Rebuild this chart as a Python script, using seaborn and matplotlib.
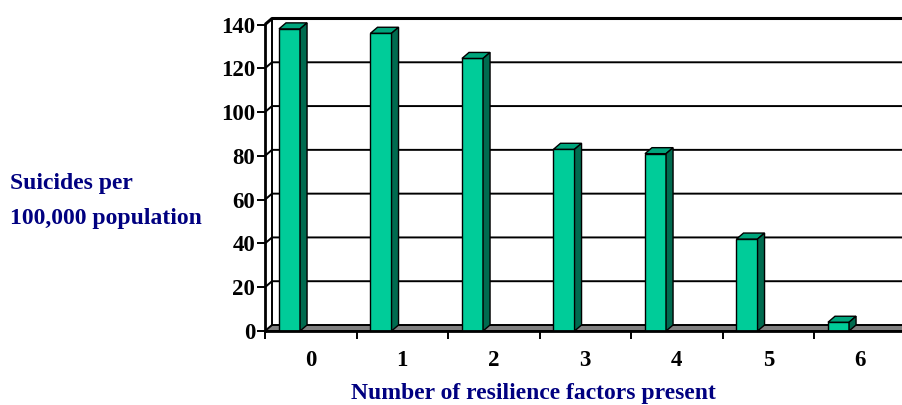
import numpy as np
import matplotlib
matplotlib.use("Agg")
import matplotlib.pyplot as plt
from matplotlib.patches import Polygon
import seaborn as sns
import pandas as pd

# --- data ---
factors = ["0", "1", "2", "3", "4", "5", "6"]
rates = [138, 136, 124.5, 83, 81, 42, 4]
y_ticks = [0, 20, 40, 60, 80, 100, 120, 140]

# --- style ---
FRONT = "#00CC99"
TOP = "#00A57C"
SIDE = "#006B4F"
FLOOR = "#808080"
NAVY = "#000080"
DEPTH_PX = (7, 6)   # 3d depth offset in pixels
BAR_W = 0.23
BAR_SHIFT = -0.232

sns.set_theme(style="white")
plt.rcParams["font.family"] = ["Liberation Serif", "DejaVu Serif"]
plt.rcParams["font.weight"] = "bold"

W, H = 902, 405
fig = plt.figure(figsize=(W / 100, H / 100), dpi=100)
ax_l, ax_b = 265, 331
ax_w, ax_h = 7 * 91.5, 306.5
ax = fig.add_axes([ax_l / W, 1 - ax_b / H, ax_w / W, ax_h / H])

df = pd.DataFrame({"factor": factors, "rate": rates})
sns.barplot(data=df, x="factor", y="rate", width=BAR_W, color=FRONT,
            saturation=1, edgecolor="black", linewidth=1.0, ax=ax, zorder=5)

xmin, xmax = -0.5, len(factors) - 0.5
ymax = y_ticks[-1]
ax.set_xlim(xmin, xmax)
ax.set_ylim(0, ymax)
dx = DEPTH_PX[0] / ax_w * (xmax - xmin)
dy = DEPTH_PX[1] / ax_h * ymax

# back wall, side wall diagonals and gridlines
for v in y_ticks[1:]:
    lw = 2.2 if v == ymax else 1.4
    ax.plot([xmin, xmin + dx, xmax + 1], [v, v + dy, v + dy], color="black",
            lw=lw, clip_on=False, zorder=1, solid_capstyle="butt")
ax.plot([xmin + dx, xmin + dx], [dy, ymax + dy], color="black", lw=1.4,
        clip_on=False, zorder=1)

# floor
floor = Polygon([(xmin, 0), (xmax + 1, 0), (xmax + 1, dy), (xmin + dx, dy)],
                closed=True, facecolor=FLOOR, edgecolor="black", lw=1.4,
                clip_on=False, zorder=2)
ax.add_patch(floor)

# shift bars and add 3d faces
for p in list(ax.patches):
    if p is floor:
        continue
    p.set_x(p.get_x() + BAR_SHIFT)
    x0, w, h = p.get_x(), p.get_width(), p.get_height()
    top = Polygon([(x0, h), (x0 + w, h), (x0 + w + dx, h + dy), (x0 + dx, h + dy)],
                  closed=True, facecolor=TOP, edgecolor="black", lw=1.0,
                  clip_on=False, zorder=5)
    side = Polygon([(x0 + w, 0), (x0 + w + dx, dy), (x0 + w + dx, h + dy), (x0 + w, h)],
                   closed=True, facecolor=SIDE, edgecolor="black", lw=1.0,
                   clip_on=False, zorder=5)
    ax.add_patch(top)
    ax.add_patch(side)

# axes styling
sns.despine(ax=ax, top=True, right=True)
for s in ["left", "bottom"]:
    ax.spines[s].set_color("black")
    ax.spines[s].set_linewidth(2.0)
    ax.spines[s].set_zorder(6)

ax.set_yticks(y_ticks)
ax.set_yticklabels([str(v) for v in y_ticks], fontsize=16.5, fontweight="bold",
                   color="black")
ax.tick_params(axis="y", direction="out", length=6, width=1.4, color="black",
               left=True, pad=1)
ax.set_xticks(range(len(factors)))
ax.set_xticklabels(factors, fontsize=16.5, fontweight="bold", color="black")
ax.set_xticks(np.arange(xmin, xmax + 0.01, 1.0), minor=True)
ax.tick_params(axis="x", which="major", length=0, pad=14)
ax.tick_params(axis="x", which="minor", direction="out", length=6, width=1.4,
               color="black", bottom=True)
ax.set_xlabel("")
ax.set_ylabel("")
ax.grid(False)

fig.text(533 / W, 1 - 393 / H, "Number of resilience factors present",
         ha="center", va="center", fontsize=17, fontweight="bold", color=NAVY)
fig.text(10 / W, 1 - 183 / H, "Suicides per", ha="left", va="center",
         fontsize=17, fontweight="bold", color=NAVY)
fig.text(10 / W, 1 - 218 / H, "100,000 population", ha="left", va="center",
         fontsize=17, fontweight="bold", color=NAVY)

fig.savefig("out.png", dpi=100)
